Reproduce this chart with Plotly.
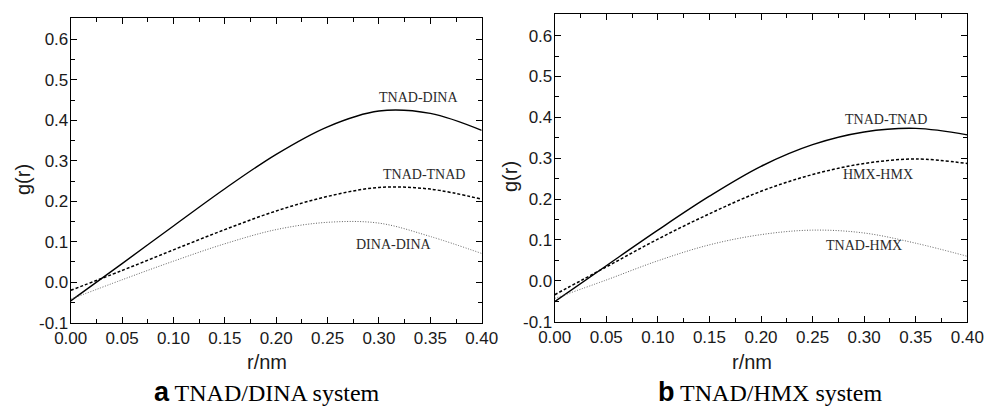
import plotly.graph_objects as go

# ---------------- data ----------------
r_nm = [0.00, 0.05, 0.10, 0.15, 0.20, 0.25, 0.30, 0.35, 0.40]

# panel a: TNAD/DINA system
a_tnad_dina = [-0.046, 0.046, 0.139, 0.231, 0.316, 0.384, 0.423, 0.417, 0.375]
a_tnad_tnad = [-0.020, 0.029, 0.080, 0.130, 0.176, 0.212, 0.234, 0.230, 0.205]
a_dina_dina = [-0.042, 0.006, 0.052, 0.095, 0.130, 0.148, 0.146, 0.113, 0.071]

# panel b: TNAD/HMX system
b_tnad_tnad = [-0.051, 0.037, 0.124, 0.207, 0.280, 0.333, 0.364, 0.373, 0.357]
b_hmx_hmx = [-0.034, 0.034, 0.102, 0.164, 0.219, 0.260, 0.287, 0.298, 0.287]
b_tnad_hmx = [-0.043, 0.002, 0.049, 0.088, 0.113, 0.124, 0.117, 0.092, 0.060]

x_ticks = [0.00, 0.05, 0.10, 0.15, 0.20, 0.25, 0.30, 0.35, 0.40]
x_tick_labels = ["0.00", "0.05", "0.10", "0.15", "0.20", "0.25", "0.30", "0.35", "0.40"]
y_ticks = [-0.1, 0.0, 0.1, 0.2, 0.3, 0.4, 0.5, 0.6]
y_tick_labels = ["-0.1", "0.0", "0.1", "0.2", "0.3", "0.4", "0.5", "0.6"]

# label positions (data coords)
a_labels = [("TNAD-DINA", 0.338, 0.456), ("TNAD-TNAD", 0.344, 0.266), ("DINA-DINA", 0.315, 0.094)]
b_labels = [("TNAD-TNAD", 0.321, 0.395), ("HMX-HMX", 0.313, 0.259), ("TNAD-HMX", 0.300, 0.087)]

# ---------------- figure ----------------
W, H = 984, 408


def px_x(p):
    return p / W


def px_y(p):
    return (H - p) / H


fig = go.Figure()

solid = dict(color="black", width=1.4, shape="spline", smoothing=1.0)
dashed = dict(color="black", width=1.5, dash="3px,2px", shape="spline", smoothing=1.0)
dotted = dict(color="#606060", width=1.0, dash="1px,1.6px", shape="spline", smoothing=1.0)

for ys, ln, xa, ya in [
    (a_tnad_dina, solid, "x", "y"), (a_tnad_tnad, dashed, "x", "y"), (a_dina_dina, dotted, "x", "y"),
    (b_tnad_tnad, solid, "x2", "y2"), (b_hmx_hmx, dashed, "x2", "y2"), (b_tnad_hmx, dotted, "x2", "y2"),
]:
    fig.add_trace(go.Scatter(x=r_nm, y=ys, mode="lines", line=ln, xaxis=xa, yaxis=ya,
                             showlegend=False, hoverinfo="skip"))

tickfont = dict(family="Liberation Sans, Arial, sans-serif", size=17, color="#1a1a1a")
common_x = dict(range=[0, 0.4], tickvals=x_ticks, ticktext=x_tick_labels, ticks="inside", ticklen=6,
                tickwidth=1, tickcolor="black", showline=True, linecolor="black", linewidth=1,
                mirror="allticks", showgrid=False, zeroline=False, tickfont=tickfont, automargin=False,
                minor=dict(dtick=0.025, tick0=0, ticks="inside", ticklen=4, tickcolor="black", showgrid=False))
common_y = dict(range=[-0.1, 0.652], tickvals=y_ticks, ticktext=y_tick_labels, ticks="inside", ticklen=6,
                tickwidth=1, tickcolor="black", showline=True, linecolor="black", linewidth=1,
                mirror="allticks", showgrid=False, zeroline=False, tickfont=tickfont, automargin=False,
                ticklabelstandoff=-2,
                minor=dict(dtick=0.05, tick0=0, ticks="inside", ticklen=4, tickcolor="black", showgrid=False))

fig.update_layout(
    width=W, height=H, margin=dict(l=0, r=0, t=0, b=0, autoexpand=False),
    paper_bgcolor="white", plot_bgcolor="white",
    xaxis=dict(domain=[px_x(70.7), px_x(481.7)], anchor="y", **common_x),
    yaxis=dict(domain=[px_y(322.7), px_y(18.3)], anchor="x", **common_y),
    xaxis2=dict(domain=[px_x(554.7), px_x(967.3)], anchor="y2", **common_x),
    yaxis2=dict(domain=[px_y(321.7), px_y(14.3)], anchor="x2", **common_y),
)

serif = "Liberation Serif, Times New Roman, serif"
sans = "Liberation Sans, Arial, sans-serif"
for labels, xr, yr in [(a_labels, "x", "y"), (b_labels, "x2", "y2")]:
    for txt, lx, ly in labels:
        fig.add_annotation(x=lx, y=ly, xref=xr, yref=yr, text=txt, showarrow=False,
                           font=dict(family=serif, size=14, color="#2a2a2a"),
                           xanchor="center", yanchor="middle")

# axis titles
for cx, cy in [(267, 362), (752, 362)]:
    fig.add_annotation(x=px_x(cx), y=px_y(cy), xref="paper", yref="paper", text="r/nm",
                       showarrow=False, font=dict(family=sans, size=20, color="#1a1a1a"),
                       xanchor="center", yanchor="middle")
for cx, cy in [(23, 180), (510, 177)]:
    fig.add_annotation(x=px_x(cx), y=px_y(cy), xref="paper", yref="paper", text="g(r)",
                       showarrow=False, textangle=-90, font=dict(family=sans, size=20, color="#1a1a1a"),
                       xanchor="center", yanchor="middle")

# captions
for cx, letter, rest in [(267, "a", "TNAD/DINA system"), (770, "b", "TNAD/HMX system")]:
    fig.add_annotation(
        x=px_x(cx), y=0, xref="paper", yref="paper", showarrow=False, borderpad=0,
        text=f'<span style="font-family:Liberation Sans;font-weight:bold;font-size:27px">{letter}</span> {rest}',
        font=dict(family=serif, size=24, color="black"), xanchor="center", yanchor="bottom")

# remove the default page margin so the 984x408 figure fills the window exactly
fig.write_html("out.html", config={"displayModeBar": False},
               post_script="document.body.style.margin='0px';document.documentElement.style.overflow='hidden';")
